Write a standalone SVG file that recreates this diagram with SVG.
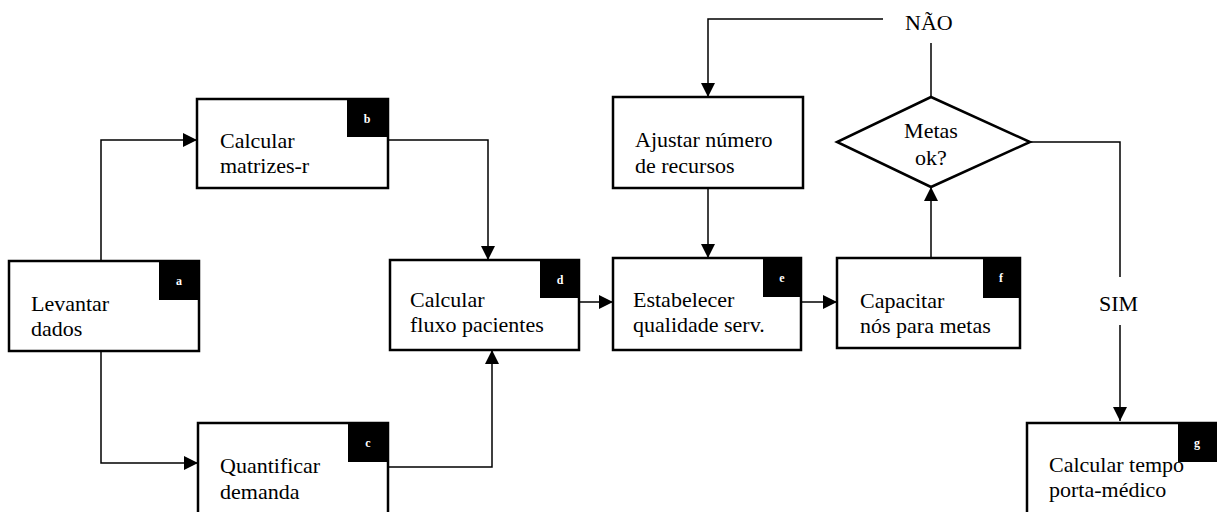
<svg xmlns="http://www.w3.org/2000/svg" width="1217" height="512" viewBox="0 0 1217 512">
<style>
.box{fill:#fff;stroke:#000;stroke-width:2.5}
.tag{fill:#000}
text{font-family:'Liberation Serif','Times New Roman','DejaVu Serif',serif}
.t{font-size:22px;fill:#000}
.tl{font-size:12px;font-weight:bold;fill:#fff;text-anchor:middle}
.c{fill:none;stroke:#000;stroke-width:1.5}
</style>
<defs>
<marker id="ah" markerUnits="userSpaceOnUse" markerWidth="14" markerHeight="14" refX="14" refY="7" orient="auto">
<path d="M0,0 L14,7 L0,14 z" fill="#000"/>
</marker>
</defs>
<rect width="1217" height="512" fill="#fff"/>
<g id="connectors">
<path class="c" d="M101,261 V140 H197" marker-end="url(#ah)"/>
<path class="c" d="M101,351 V463 H198" marker-end="url(#ah)"/>
<path class="c" d="M388,140 H488 V260" marker-end="url(#ah)"/>
<path class="c" d="M388,467 H492 V350" marker-end="url(#ah)"/>
<path class="c" d="M579,302 H613" marker-end="url(#ah)"/>
<path class="c" d="M801,302 H837" marker-end="url(#ah)"/>
<path class="c" d="M708,188 V258" marker-end="url(#ah)"/>
<path class="c" d="M931,258 V187" marker-end="url(#ah)"/>
<path class="c" d="M883,19 H708 V97" marker-end="url(#ah)"/>
<path class="c" d="M931,43 V97"/>
<path class="c" d="M1030,142 H1120 V277"/>
<path class="c" d="M1120,325 V421" marker-end="url(#ah)"/>
<text class="t" x="905" y="30" font-family="Liberation Serif">NÃO</text>
<text class="t" x="1099" y="311" font-family="Liberation Serif">SIM</text>
</g>
<g id="node-a">
<rect class="box" x="9" y="261" width="190" height="90"/>
<rect class="tag" x="159" y="261" width="40" height="39"/>
<text class="tl" x="179" y="285">a</text>
<text class="t" x="31" y="311">Levantar</text>
<text class="t" x="31" y="336">dados</text>
</g>
<g id="node-b">
<rect class="box" x="197" y="99" width="191" height="89"/>
<rect class="tag" x="347" y="99" width="41" height="38"/>
<text class="tl" x="367" y="123">b</text>
<text class="t" x="220" y="148">Calcular</text>
<text class="t" x="220" y="173">matrizes-r</text>
</g>
<g id="node-c">
<rect class="box" x="198" y="423" width="190" height="100"/>
<rect class="tag" x="348" y="423" width="40" height="39"/>
<text class="tl" x="368" y="447">c</text>
<text class="t" x="220" y="473">Quantificar</text>
<text class="t" x="220" y="499">demanda</text>
</g>
<g id="node-d">
<rect class="box" x="390" y="260" width="189" height="90"/>
<rect class="tag" x="540" y="260" width="39" height="38"/>
<text class="tl" x="560" y="284">d</text>
<text class="t" x="410" y="307">Calcular</text>
<text class="t" x="410" y="332">fluxo pacientes</text>
</g>
<g id="node-e">
<rect class="box" x="613" y="258" width="188" height="92"/>
<rect class="tag" x="763" y="258" width="38" height="39"/>
<text class="tl" x="782" y="282">e</text>
<text class="t" x="633" y="307">Estabelecer</text>
<text class="t" x="633" y="332">qualidade serv.</text>
</g>
<g id="node-f">
<rect class="box" x="837" y="258" width="183" height="90"/>
<rect class="tag" x="983" y="258" width="37" height="40"/>
<text class="tl" x="1001" y="282">f</text>
<text class="t" x="860" y="308">Capacitar</text>
<text class="t" x="860" y="333">nós para metas</text>
</g>
<g id="node-ajustar">
<rect class="box" x="613" y="97" width="190" height="91"/>
<text class="t" x="635" y="147">Ajustar número</text>
<text class="t" x="635" y="173">de recursos</text>
</g>
<g id="node-metas">
<polygon class="box" points="931,97 1030,142 931,187 837,142"/>
<text class="t" x="931" y="138" text-anchor="middle">Metas</text>
<text class="t" x="931" y="165" text-anchor="middle">ok?</text>
</g>
<g id="node-g">
<rect class="box" x="1027" y="423" width="200" height="100"/>
<rect class="tag" x="1178" y="423" width="39" height="39"/>
<text class="tl" x="1197" y="447">g</text>
<text class="t" x="1049" y="472">Calcular tempo</text>
<text class="t" x="1049" y="497">porta-médico</text>
</g>
</svg>
